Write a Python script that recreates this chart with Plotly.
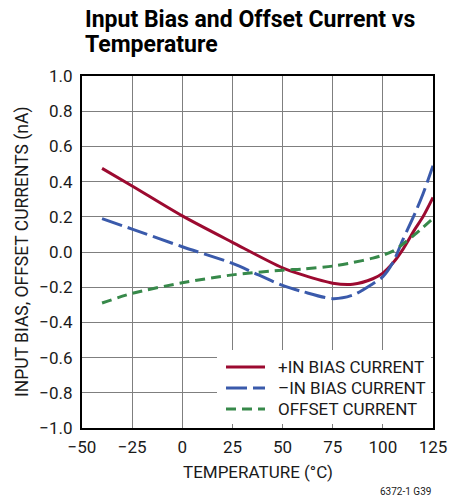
import plotly.graph_objects as go

# ---- data ----
temperature = [-40, -25, 0, 25, 50, 60, 75, 85, 95, 100, 105, 110, 116, 120, 125]
pos_in_bias = [0.475, 0.375, 0.205, 0.055, -0.09, -0.13, -0.177, -0.183, -0.152, -0.12,
               -0.063, 0.015, 0.13, 0.20, 0.31]
neg_in_bias = [0.19, 0.13, 0.03, -0.065, -0.19, -0.225, -0.265, -0.245, -0.18, -0.14,
               -0.06, 0.07, 0.22, 0.33, 0.49]
offset_curr = [-0.29, -0.235, -0.175, -0.13, -0.103, -0.097, -0.08, -0.06, -0.035, -0.018,
               0.005, 0.045, 0.10, 0.14, 0.19]

series_names = ["+IN BIAS CURRENT", "\u2013IN BIAS CURRENT", "OFFSET CURRENT"]

x_tickvals = [-50, -25, 0, 25, 50, 75, 100, 125]
x_ticktext = ["\u221250", "\u221225", "0", "25", "50", "75", "100", "125"]
y_tickvals = [1.0, 0.8, 0.6, 0.4, 0.2, 0.0, -0.2, -0.4, -0.6, -0.8, -1.0]
y_ticktext = ["1.0", "0.8", "0.6", "0.4", "0.2", "0.0", "\u22120.2", "\u22120.4",
              "\u22120.6", "\u22120.8", "\u22121.0"]

FONT = "Roboto, Arial, sans-serif"
TXT = "#1a1a1a"
RED = "#9c0a30"
BLUE = "#3a5aab"
GREEN = "#37894a"
colors = [RED, BLUE, GREEN]
dashes = ["solid", "21px,6px", "10px,6px"]
series = [pos_in_bias, neg_in_bias, offset_curr]

fig = go.Figure()
for name, ys, c, d in zip(series_names, series, colors, dashes):
    fig.add_trace(go.Scatter(x=temperature, y=ys, mode="lines", name=name, showlegend=False,
                             line=dict(color=c, width=3, dash=d, shape="spline", smoothing=0.8)))

axis_common = dict(showline=True, linecolor="black", linewidth=2, mirror=True,
                   showgrid=True, gridcolor="#7f7f7f", gridwidth=1.3, zeroline=False,
                   ticks="", tickfont=dict(family=FONT, size=17, color=TXT))

fig.update_xaxes(range=[-50, 125], tickvals=x_tickvals, ticktext=x_ticktext,
                 ticklabelstandoff=3, **axis_common)
fig.update_yaxes(range=[-1.0, 1.0], tickvals=y_tickvals, ticktext=y_ticktext,
                 ticklabelstandoff=4, **axis_common)

# page body has an 8px margin: window pixel coords -> plot-area paper coords
PL, PR, PT, PB = 82.0, 433.0, 76.0, 428.0

def px(p):
    return (p - PL) / (PR - PL)

def py(p):
    return (PB - p) / (PB - PT)

annotations = [
    dict(text="<b>Input Bias and Offset Current vs</b>", x=px(83), y=py(20), xanchor="left",
         yanchor="middle", font=dict(family=FONT, size=23, color="black")),
    dict(text="<b>Temperature</b>", x=px(83), y=py(44), xanchor="left",
         yanchor="middle", font=dict(family=FONT, size=23, color="black")),
    dict(text="TEMPERATURE (\u00b0C)", x=0.5, y=py(472), xanchor="center", yanchor="middle",
         font=dict(family=FONT, size=17, color=TXT)),
    dict(text="INPUT BIAS, OFFSET CURRENTS (nA)", x=px(22), y=0.5, xanchor="center",
         yanchor="middle", textangle=-90, font=dict(family=FONT, size=17.5, color=TXT)),
    dict(text="6372-1 G39", x=1.0, y=py(491), xanchor="right", yanchor="middle",
         font=dict(family=FONT, size=10, color=TXT)),
]

# legend, drawn as a key box inside the plot
shapes = [dict(type="rect", x0=px(217), x1=px(431), y0=py(424), y1=py(350),
               fillcolor="white", line=dict(width=0), layer="above")]
legend_rows = [367, 388, 409]
for name, c, d, yrow in zip(series_names, colors, dashes, legend_rows):
    shapes.append(dict(type="line", x0=px(226), x1=px(265), y0=py(yrow), y1=py(yrow),
                       line=dict(color=c, width=3, dash=d), layer="above"))
    annotations.append(dict(text=name, x=px(276), y=py(yrow), xanchor="left", yanchor="middle",
                            font=dict(family=FONT, size=17, color=TXT)))

for a in annotations:
    a["xref"] = "paper"
    a["yref"] = "paper"
    a["showarrow"] = False
for s in shapes:
    s["xref"] = "paper"
    s["yref"] = "paper"

fig.update_layout(
    width=453, height=491,
    margin=dict(l=74, r=28, t=68, b=71),
    paper_bgcolor="white", plot_bgcolor="white",
    showlegend=False,
    annotations=annotations,
    shapes=shapes,
)

fig.write_html("out.html")
